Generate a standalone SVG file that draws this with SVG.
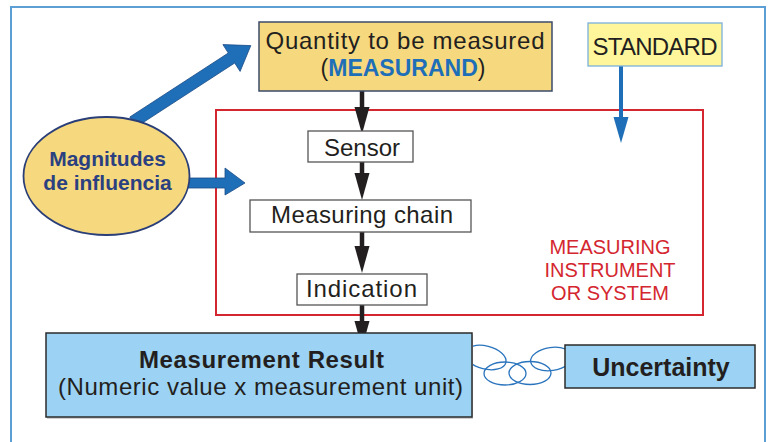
<svg xmlns="http://www.w3.org/2000/svg" width="770" height="442" viewBox="0 0 770 442">
  <defs>
    <style>
      text { font-family: "Liberation Sans", Arial, sans-serif; }
      .dark { fill: #231f20; }
      .yellow { fill: #f6d87e; stroke: #3b4a6b; stroke-width: 1.5; }
      .plain { fill: #ffffff; stroke: #555555; stroke-width: 1.3; }
      .result { fill: #9cd2f3; stroke: #2b2b2b; stroke-width: 1.5; }
      .flow { stroke: #231f20; stroke-width: 4.5; fill: none; }
      .link { fill: none; stroke: #2a74be; stroke-width: 1.3; }
      .bigarrow { fill: #1f6fb8; stroke: #1b4b86; stroke-width: 0.8; }
      .red { fill: #d4262f; font-size: 20px; text-anchor: middle; }
    </style>
    <marker id="blackHead" markerUnits="userSpaceOnUse" markerWidth="28" markerHeight="16" refX="0" refY="7.5" orient="auto">
      <path d="M0,0 L27,7.5 L0,15 Z" fill="#231f20"/>
    </marker>
    <marker id="blueHead" markerUnits="userSpaceOnUse" markerWidth="28" markerHeight="16" refX="0" refY="7.5" orient="auto">
      <path d="M0,0 L26,7.5 L0,15 Z" fill="#1f6fb8"/>
    </marker>
  </defs>

  <!-- frame -->
  <rect x="11" y="7" width="754" height="450" fill="#ffffff" stroke="#5b9fd5" stroke-width="2"/>

  <!-- instrument boundary -->
  <g id="instrument">
    <rect x="216" y="110" width="487" height="205" fill="none" stroke="#d4262f" stroke-width="2"/>
    <text class="red" x="610" y="254">MEASURING</text>
    <text class="red" x="610" y="277">INSTRUMENT</text>
    <text class="red" x="610" y="300">OR SYSTEM</text>
  </g>

  <!-- connectors -->
  <g id="connectors">
    <line class="flow" x1="362" y1="91" x2="362" y2="107" marker-end="url(#blackHead)"/>
    <line class="flow" x1="362" y1="162" x2="362" y2="173" marker-end="url(#blackHead)"/>
    <line class="flow" x1="362" y1="232" x2="362" y2="246" marker-end="url(#blackHead)"/>
    <line class="flow" x1="362" y1="305" x2="362" y2="321" marker-end="url(#blackHead)"/>
    <line x1="621" y1="66" x2="621" y2="117" stroke="#1f6fb8" stroke-width="4" marker-end="url(#blueHead)"/>
    <polygon class="bigarrow" points="129.8,117 228.3,53 222.9,44.6 250.8,45.6 240.1,71.4 234.7,63 136.2,127"/>
    <polygon class="bigarrow" points="182,178 225,178 225,168 245,183 225,195 225,188 182,188"/>
    <!-- chain links -->
    <ellipse class="link" cx="485.5" cy="357.5" rx="21" ry="11.5" transform="rotate(14 485.5 357.5)"/>
    <ellipse class="link" cx="505" cy="373.5" rx="21" ry="11.5"/>
    <ellipse class="link" cx="530" cy="373" rx="21" ry="11.5"/>
    <ellipse class="link" cx="551.5" cy="359" rx="21" ry="11.5" transform="rotate(-8 551.5 359)"/>
  </g>

  <g id="measurand">
    <rect class="yellow" x="259" y="22" width="293" height="69"/>
    <text x="405" y="49" font-size="24" text-anchor="middle" class="dark" textLength="279">Quantity to be measured</text>
    <text x="403" y="75.5" font-size="23" text-anchor="middle" class="dark">(<tspan fill="#1f6fb8" font-weight="bold">MEASURAND</tspan>)</text>
  </g>

  <g id="standard">
    <rect x="588" y="23" width="134" height="43" fill="#fff69c" stroke="#7ab0dc" stroke-width="1.3"/>
    <text x="655" y="55" font-size="24" text-anchor="middle" class="dark" textLength="125">STANDARD</text>
  </g>

  <g id="influence">
    <ellipse cx="106.5" cy="176" rx="83" ry="59" fill="#f6d87e" stroke="#2a3e78" stroke-width="1.8"/>
    <text x="107.5" y="166" font-size="21" font-weight="bold" text-anchor="middle" fill="#2b4080">Magnitudes</text>
    <text x="107.5" y="190" font-size="21" font-weight="bold" text-anchor="middle" fill="#2b4080">de influencia</text>
  </g>

  <g id="sensor">
    <rect class="plain" x="308" y="131" width="105" height="31"/>
    <text x="362" y="156" font-size="24" text-anchor="middle" class="dark" textLength="76">Sensor</text>
  </g>

  <g id="chain">
    <rect class="plain" x="250" y="200" width="221" height="32"/>
    <text x="362" y="223" font-size="24" text-anchor="middle" class="dark" textLength="182">Measuring chain</text>
  </g>

  <g id="indication">
    <rect class="plain" x="297" y="274" width="130" height="31"/>
    <text x="361.5" y="297" font-size="24" text-anchor="middle" class="dark" textLength="111">Indication</text>
  </g>

  <g id="result">
    <rect x="47" y="335" width="426" height="84" fill="#d0d0d0"/>
    <rect class="result" x="46" y="333" width="426" height="84"/>
    <text x="261.5" y="368" font-size="24" font-weight="bold" text-anchor="middle" class="dark" textLength="245">Measurement Result</text>
    <text x="260.5" y="395" font-size="24" text-anchor="middle" class="dark" textLength="405">(Numeric value x measurement unit)</text>
  </g>

  <g id="uncertainty">
    <rect class="result" x="565" y="345" width="190" height="43"/>
    <text x="661" y="376" font-size="25" font-weight="bold" text-anchor="middle" class="dark">Uncertainty</text>
  </g>
</svg>
